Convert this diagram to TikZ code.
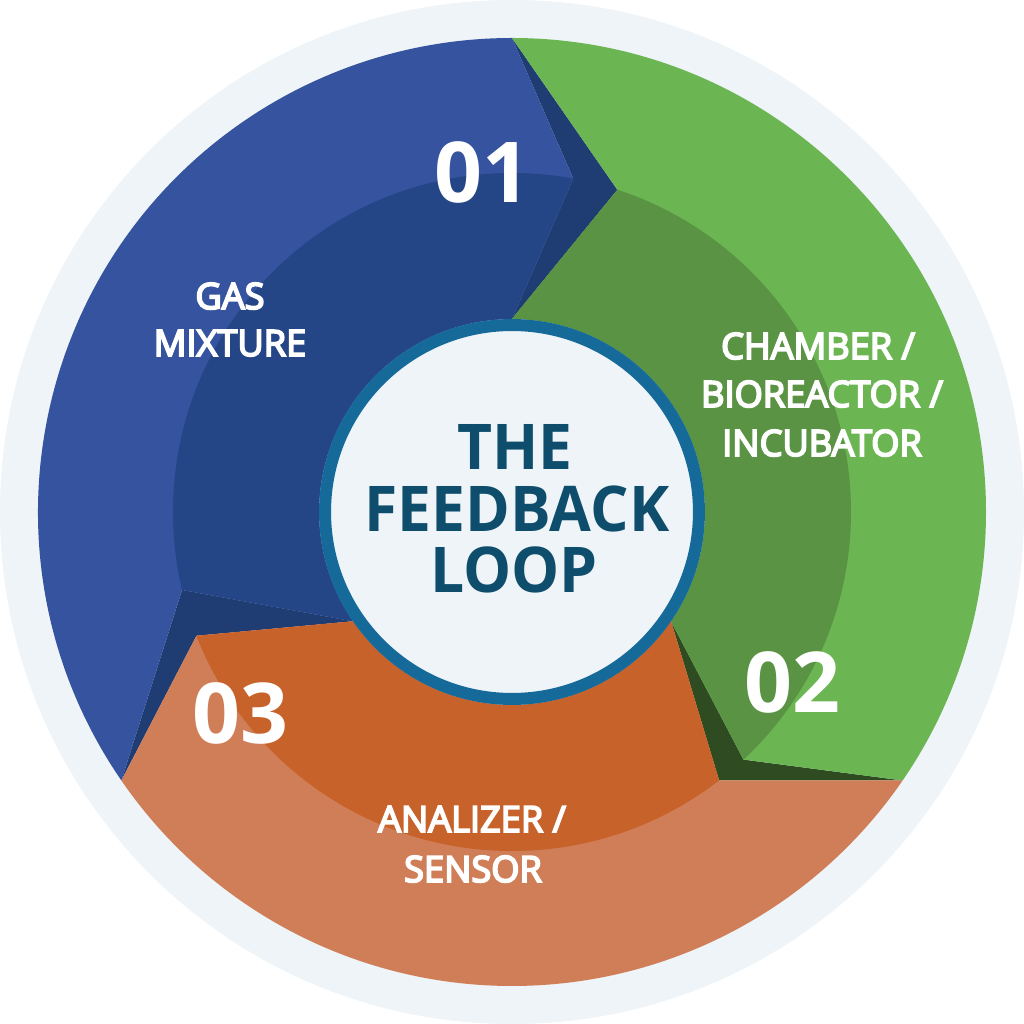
\documentclass[tikz,border=0pt]{standalone}
\usepackage{fontspec}
\setmainfont{Open Sans}
\newfontfamily\labelfont[FakeBold=5]{Open Sans}
\newfontfamily\titlefont[FakeStretch=0.96]{Open Sans}
\definecolor{pale}{HTML}{EEF4F7}
\definecolor{blueL}{HTML}{35539F}
\definecolor{blueD}{HTML}{254686}
\definecolor{blueS}{HTML}{1F3D72}
\definecolor{greenL}{HTML}{6BB553}
\definecolor{greenD}{HTML}{599343}
\definecolor{greenS}{HTML}{2E4B22}
\definecolor{orangeL}{HTML}{CF7E57}
\definecolor{orangeD}{HTML}{C8622B}
\definecolor{ringc}{HTML}{166A9A}
\definecolor{titlec}{HTML}{0E4E6C}
\begin{document}
\begin{tikzpicture}[x=0.02cm,y=0.02cm,
  num/.style={text=white,font=\bfseries\fontsize{47.8}{50}\selectfont,anchor=base,inner sep=0pt},
  lbl/.style={text=white,font=\labelfont\fontsize{20.6}{24}\selectfont,anchor=base,inner sep=0pt},
  ttl/.style={text=titlec,font=\titlefont\bfseries\fontsize{35.9}{40}\selectfont,anchor=base,inner sep=0pt}]
\fill[white] (-512,-512) rectangle (512,512);
\useasboundingbox (-512,-512) rectangle (512,512);
\fill[pale] (0,0) circle[radius=512];
% shadows in the gaps
\fill[blueS] (90:474) -- (71.89:339) -- (90:193) -- (79.59:339) -- cycle;
\fill[greenS] (-34.5:474) -- (-52.35:339) -- (-34.5:193) -- (-46.92:339) -- cycle;
\fill[blueS] (214.5:474) -- (193.29:339) -- (214.5:193) -- (201.42:339) -- cycle;
% blue segment
\fill[blueL] (214.5:474) arc[start angle=214.5,end angle=90,radius=474] -- (79.59:339) -- (90:193) arc[start angle=90,end angle=214.5,radius=193] -- (193.29:339) -- cycle;
\begin{scope}
\clip (0,0) circle[radius=339];
\fill[blueD] (214.5:474) arc[start angle=214.5,end angle=90,radius=474] -- (79.59:339) -- (90:193) arc[start angle=90,end angle=214.5,radius=193] -- (193.29:339) -- cycle;
\end{scope}
% green segment
\fill[greenL] (90:474) arc[start angle=90,end angle=-34.5,radius=474] -- (-46.92:339) -- (-34.5:193) arc[start angle=-34.5,end angle=90,radius=193] -- (71.89:339) -- cycle;
\begin{scope}
\clip (0,0) circle[radius=339];
\fill[greenD] (90:474) arc[start angle=90,end angle=-34.5,radius=474] -- (-46.92:339) -- (-34.5:193) arc[start angle=-34.5,end angle=90,radius=193] -- (71.89:339) -- cycle;
\end{scope}
% orange segment
\fill[orangeL] (-34.5:474) arc[start angle=-34.5,end angle=-145.5,radius=474] -- (-158.58:339) -- (-145.5:193) arc[start angle=-145.5,end angle=-34.5,radius=193] -- (-52.35:339) -- cycle;
\begin{scope}
\clip (0,0) circle[radius=339];
\fill[orangeD] (-34.5:474) arc[start angle=-34.5,end angle=-145.5,radius=474] -- (-158.58:339) -- (-145.5:193) arc[start angle=-145.5,end angle=-34.5,radius=193] -- (-52.35:339) -- cycle;
\end{scope}
% hub
\node[circle,draw=ringc,line width=0.24cm,fill=pale,minimum size=7.48cm,inner sep=0pt,outer sep=0pt] (hub) at (0,0) {};
\node[ttl] (t1) at (3,42) {THE};
\node[ttl] (t2) at (5,-20) {FEEDBACK};
\node[ttl] (t3) at (2,-81) {LOOP};
% numbers
\node[num] (n1) at (-30,309) {01};
\node[num] (n2) at (280,-200) {02};
\node[num] (n3) at (-272,-231) {03};
% labels
\node[lbl] (g1) at (-282,203) {GAS};
\node[lbl] (g2) at (-282,156) {MIXTURE};
\node[lbl] (c1) at (306,153) {CHAMBER /};
\node[lbl] (c2) at (310,105) {BIOREACTOR /};
\node[lbl] (c3) at (310,56) {INCUBATOR};
\node[lbl] (a1) at (-40,-320) {ANALIZER /};
\node[lbl] (a2) at (-39,-370) {SENSOR};
\end{tikzpicture}
\end{document}
